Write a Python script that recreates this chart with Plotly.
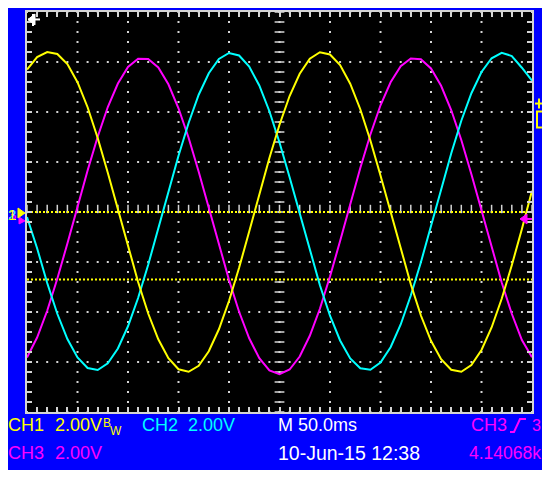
import numpy as np
import plotly.graph_objects as go

TIME_MS = list(range(-250, 251, 10))  # 50 ms/div, 10 divisions

CH1_YELLOW = [5.70, 6.20, 6.40, 6.32, 5.92, 5.19, 4.19, 2.96, 1.57, 0.09,
              -1.39, -2.80, -4.06, -5.09, -5.85, -6.29, -6.39, -6.15, -5.57, -4.69,
              -3.56, -2.23, -0.78, 0.71, 2.16, 3.49, 4.64, 5.53, 6.13, 6.39,
              6.30, 5.88, 5.13, 4.11, 2.86, 1.46, -0.02, -1.50, -2.89, -4.14,
              -5.15, -5.89, -6.31, -6.39, -6.12, -5.52, -4.62, -3.47, -2.13, -0.68,
              0.85]

CH2_CYAN = [-0.20, -1.45, -2.84, -4.07, -5.08, -5.82, -6.24, -6.32, -6.05, -5.46,
            -4.57, -3.44, -2.11, -0.67, 0.81, 2.25, 3.56, 4.69, 5.55, 6.12,
            6.36, 6.26, 5.82, 5.06, 4.03, 2.78, 1.39, -0.08, -1.55, -2.93,
            -4.15, -5.14, -5.86, -6.25, -6.31, -6.02, -5.41, -4.50, -3.34, -2.01,
            -0.56, 0.91, 2.34, 3.65, 4.75, 5.60, 6.15, 6.37, 6.24, 5.77,
            5.25]

CH3_MAGENTA = [-5.82, -5.02, -3.95, -2.67, -1.26, 0.21, 1.66, 3.01, 4.20, 5.14,
               5.80, 6.13, 6.12, 5.78, 5.11, 4.15, 2.97, 1.61, 0.16, -1.31,
               -2.72, -3.99, -5.05, -5.85, -6.34, -6.49, -6.30, -5.78, -4.95, -3.87,
               -2.58, -1.16, 0.31, 1.76, 3.10, 4.27, 5.19, 5.83, 6.14, 6.11,
               5.74, 5.05, 4.08, 2.88, 1.51, 0.05, -1.41, -2.82, -4.07, -5.12,
               -5.81]

MARKER_LEVELS_V = [0.0, -2.7]   # yellow dotted reference lines

ROW1 = [("CH1", "#ffff00", 7, 18), ("2.00V", "#ffff00", 54, 18), ("CH2", "#00ffff", 141, 18),
        ("2.00V", "#00ffff", 187, 18), ("M 50.0ms", "#ffffff", 277, 18),
        ("CH3", "#ff00ff", 470, 18), ("3", "#ff00ff", 531, 16)]
ROW2 = [("CH3", "#ff00ff", 7, 18), ("2.00V", "#ff00ff", 54, 18),
        ("10-Jun-15 12:38", "#ffffff", 277, 19.5), ("4.14068k", "#ff00ff", 468, 17.5)]

# ---- layout constants (reference pixel coords; page has an 8px body margin) ----
OFF = 8
W, H = 542 - OFF, 470 - OFF
L, R, T, B = 27, 532, 10, 412
XR = [-250, 250]
YR = [-8, 8]
GRID = "#d4d4d4"
FONT = "Liberation Sans Narrow, Liberation Sans, Arial, sans-serif"


def px(x):
    return (x - L) / (R - L)


def py(y):
    return (B - y) / (B - T)


def P(x, y):
    return f"{px(x):.5f},{py(y):.5f}"


fig = go.Figure()

# dotted grid (dots every 1/5 division)
gx, gy = [], []
for xv in np.arange(XR[0], XR[1] + 1, 50):
    for yv in np.arange(YR[0], YR[1] + 0.01, 0.4):
        gx.append(xv); gy.append(yv)
for yv in np.arange(YR[0], YR[1] + 0.01, 2):
    for xv in np.arange(XR[0], XR[1] + 1, 10):
        gx.append(xv); gy.append(yv)
fig.add_trace(go.Scatter(x=gx, y=gy, mode="markers", hoverinfo="skip",
                         marker=dict(symbol="square", size=2, color=GRID, line=dict(width=0)),
                         showlegend=False))

# centre cross ticks
cy = list(np.arange(YR[0], YR[1] + 0.01, 0.4))
fig.add_trace(go.Scatter(x=[0] * len(cy), y=cy, mode="markers", hoverinfo="skip",
                         marker=dict(symbol="line-ew", size=7, line=dict(width=1.5, color=GRID)),
                         showlegend=False))
cx = list(np.arange(XR[0], XR[1] + 1, 10))
fig.add_trace(go.Scatter(x=cx, y=[0.12] * len(cx), mode="markers", hoverinfo="skip",
                         marker=dict(symbol="line-ns", size=6, line=dict(width=1.5, color=GRID)),
                         showlegend=False))

# yellow reference lines
for lv in MARKER_LEVELS_V:
    fig.add_trace(go.Scatter(x=XR, y=[lv, lv], mode="lines", hoverinfo="skip",
                             line=dict(color="#ffff00", width=2, dash="2px,2px"),
                             showlegend=False))

# waveforms
for ys, col in [(CH3_MAGENTA, "#ff00ff"), (CH2_CYAN, "#00ffff"), (CH1_YELLOW, "#ffff00")]:
    fig.add_trace(go.Scatter(x=TIME_MS, y=ys, mode="lines",
                             line=dict(color=col, width=2), showlegend=False))

axis_common = dict(showticklabels=False, showgrid=False, zeroline=False,
                   showline=True, linecolor=GRID, linewidth=2, mirror="allticks",
                   ticks="inside", ticklen=5, tickwidth=1.5, tickcolor=GRID)
fig.update_xaxes(range=XR, tick0=0, dtick=50,
                 minor=dict(dtick=10, ticks="inside", ticklen=5, tickwidth=1.5,
                            tickcolor=GRID, showgrid=False), **axis_common)
fig.update_yaxes(range=YR, tick0=0, dtick=2,
                 minor=dict(dtick=0.4, ticks="inside", ticklen=5, tickwidth=1.5,
                            tickcolor=GRID, showgrid=False), **axis_common)

shapes = [
    # top-left trigger position marker
    dict(type="path", xref="paper", yref="paper", path=f"M{P(28,17.5)}L{P(35,12)}L{P(35,23)}Z",
         fillcolor="#ffffff", line=dict(color="#ffffff", width=1)),
    dict(type="line", xref="paper", yref="paper", x0=px(28), x1=px(40), y0=py(17.5), y1=py(17.5),
         line=dict(color="#ffffff", width=2)),
    dict(type="line", xref="paper", yref="paper", x0=px(33), x1=px(33), y0=py(12), y1=py(24),
         line=dict(color="#ffffff", width=2)),
    # right magenta trigger level arrow
    dict(type="path", xref="paper", yref="paper", path=f"M{P(520,218)}L{P(527,213)}L{P(527,223)}Z",
         fillcolor="#ff00ff", line=dict(color="#ff00ff", width=1)),
    dict(type="line", xref="paper", yref="paper", x0=px(524), x1=px(532), y0=py(218), y1=py(218),
         line=dict(color="#ff00ff", width=2)),
    # left channel ground markers
    dict(type="path", xref="paper", yref="paper", path=f"M{P(19,216)}L{P(25,220)}L{P(19,223)}Z",
         fillcolor="#ff00ff", line=dict(color="#ff00ff", width=1)),
    dict(type="path", xref="paper", yref="paper", path=f"M{P(18,207)}L{P(25,212)}L{P(18,217)}Z",
         fillcolor="#ffff00", line=dict(color="#ffff00", width=1)),
    # right side trigger icon
    dict(type="line", xref="paper", yref="paper", x0=px(535), x1=px(543), y0=py(102), y1=py(102),
         line=dict(color="#ffff00", width=2)),
    dict(type="line", xref="paper", yref="paper", x0=px(539), x1=px(539), y0=py(97), y1=py(107),
         line=dict(color="#ffff00", width=2)),
    dict(type="path", xref="paper", yref="paper",
         path=f"M{P(543,110)}L{P(537,110)}L{P(537,126)}L{P(543,126)}",
         line=dict(color="#ffff00", width=2)),
    # slope symbol in trigger readout
    dict(type="path", xref="paper", yref="paper",
         path=f"M{P(510,432)}L{P(514,432)}L{P(520,419)}L{P(526,419)}",
         line=dict(color="#ff00ff", width=2)),
]
fig.update_layout(shapes=shapes)

ann = []
for row, yc in [(ROW1, 425.5), (ROW2, 453)]:
    for txt, col, x, fs in row:
        ann.append(dict(text=txt, x=px(x), y=py(yc), xref="paper", yref="paper", xanchor="left",
                        yanchor="middle", showarrow=False, borderpad=0,
                        font=dict(family=FONT, size=fs, color=col)))
ann.append(dict(text="B", x=px(102), y=py(423), xref="paper", yref="paper", xanchor="left",
                yanchor="middle", showarrow=False, borderpad=0,
                font=dict(family=FONT, size=12, color="#ffff00")))
ann.append(dict(text="W", x=px(109), y=py(431), xref="paper", yref="paper", xanchor="left",
                yanchor="middle", showarrow=False, borderpad=0,
                font=dict(family=FONT, size=12, color="#ffff00")))
for txt, col in [("3", "#ff00ff"), ("2", "#00ffff"), ("1", "#ffff00")]:
    ann.append(dict(text=txt, x=px(11.5), y=py(214), xref="paper", yref="paper", xanchor="center",
                    yanchor="middle", showarrow=False, borderpad=0,
                    font=dict(family=FONT, size=15, color=col)))

fig.update_layout(
    annotations=ann,
    width=W, height=H,
    margin=dict(l=L - OFF, r=(W + OFF) - R, t=T - OFF, b=(H + OFF) - B, pad=0),
    paper_bgcolor="#0000ff",
    plot_bgcolor="#000000",
    showlegend=False,
)

fig.write_html("out.html")
